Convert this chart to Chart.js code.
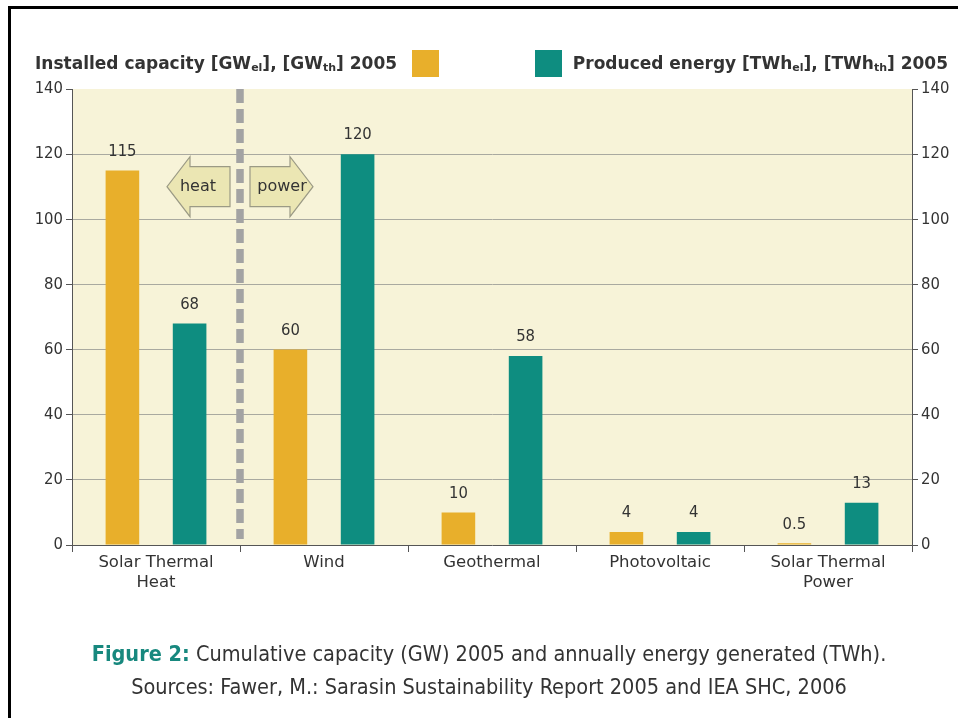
<!DOCTYPE html>
<html>
<head>
<meta charset="utf-8">
<script src="https://cdn.jsdelivr.net/npm/chart.js@4.4.1/dist/chart.umd.min.js"></script>
<style>
  html, body { margin: 0; padding: 0; background: #fff; }
  #wrap { position: relative; width: 958px; height: 718px; overflow: hidden; font-family: "DejaVu Sans", Verdana, sans-serif; }
  #frame { position: absolute; left: 8px; top: 6px; width: 1000px; height: 1000px; border-top: 3px solid #000; border-left: 3px solid #000; }
  canvas { position: absolute; left: 0; top: 0; }
  .leg { position: absolute; top: 53px; font-weight: bold; font-size: 17px; color: #333; white-space: nowrap; }
  .leg sub { font-size: 11px; vertical-align: -2px; }
  .sw { position: absolute; top: 50px; width: 27px; height: 27px; }
  #cap { position: absolute; left: 0; width: 978px; top: 637px; text-align: center; font-family: "DejaVu Sans Condensed", "DejaVu Sans", sans-serif; font-size: 21.5px; color: #333; line-height: 33px; }
  #cap b { color: #17887e; }
</style>
</head>
<body>
<div id="wrap">
  <div id="frame"></div>
  <canvas id="c" width="958" height="718"></canvas>
  <div class="leg" id="leg1" style="left:35px">Installed capacity [GW<sub>el</sub>], [GW<sub>th</sub>] 2005</div>
  <div class="sw" style="left:412px;background:#e8af2b"></div>
  <div class="sw" style="left:535px;background:#0e8d80"></div>
  <div class="leg" id="leg2" style="right:10px">Produced energy [TWh<sub>el</sub>], [TWh<sub>th</sub>] 2005</div>
  <div id="cap"><b>Figure 2:</b> Cumulative capacity (GW) 2005 and annually energy generated (TWh).<br>Sources: Fawer, M.: Sarasin Sustainability Report 2005 and IEA SHC, 2006</div>
</div>
<script>
const categories = [["Solar Thermal", "Heat"], "Wind", "Geothermal", "Photovoltaic", ["Solar Thermal", "Power"]];
const installedCapacity = [115, 60, 10, 4, 0.5];
const producedEnergy = [68, 120, 58, 4, 13];
const yTickValues = [0, 20, 40, 60, 80, 100, 120, 140];
const arrowLabels = ["heat", "power"];

const FONT_C = "'DejaVu Sans Condensed', 'DejaVu Sans', sans-serif";
const FONT = "'DejaVu Sans', sans-serif";

const bgPlugin = {
  id: 'bg',
  beforeDraw(chart) {
    const a = chart.chartArea, ctx = chart.ctx;
    ctx.save();
    ctx.fillStyle = '#f7f3d8';
    ctx.fillRect(a.left, a.top, a.right - a.left, a.bottom - a.top);
    ctx.restore();
  }
};

const annoPlugin = {
  id: 'anno',
  beforeDatasetsDraw(chart) {
    const ctx = chart.ctx, x = chart.scales.x, y = chart.scales.y, a = chart.chartArea;
    const div = (x.getPixelForValue(0) + x.getPixelForValue(1)) / 2;
    ctx.save();
    // dashed divider
    ctx.strokeStyle = '#a3a3a3';
    ctx.lineWidth = 7.5;
    ctx.setLineDash([14, 6]);
    ctx.beginPath();
    ctx.moveTo(div, a.top);
    ctx.lineTo(div, a.bottom - 6);
    ctx.stroke();
    ctx.setLineDash([]);
    // arrows
    const cy = y.getPixelForValue(110);
    function arrow(s, label) {
      const x0 = div + s * 10;
      const x1 = div + s * 50;
      const x2 = div + s * 73;
      const bh = 20, hh = 30;
      ctx.beginPath();
      ctx.moveTo(x0, cy - bh);
      ctx.lineTo(x1, cy - bh);
      ctx.lineTo(x1, cy - hh);
      ctx.lineTo(x2, cy);
      ctx.lineTo(x1, cy + hh);
      ctx.lineTo(x1, cy + bh);
      ctx.lineTo(x0, cy + bh);
      ctx.closePath();
      ctx.fillStyle = '#ebe6b3';
      ctx.fill();
      ctx.strokeStyle = '#9b9a85';
      ctx.lineWidth = 1.2;
      ctx.stroke();
      ctx.fillStyle = '#333';
      ctx.font = '16px ' + FONT;
      ctx.textAlign = 'center';
      ctx.textBaseline = 'middle';
      ctx.fillText(label, div + s * 42, cy);
    }
    arrow(-1, arrowLabels[0]);
    arrow(1, arrowLabels[1]);
    ctx.restore();
  },
  afterDatasetsDraw(chart) {
    const ctx = chart.ctx;
    ctx.save();
    ctx.fillStyle = '#333';
    ctx.font = '16.5px ' + FONT_C;
    ctx.textAlign = 'center';
    ctx.textBaseline = 'middle';
    chart.data.datasets.forEach((ds, i) => {
      const meta = chart.getDatasetMeta(i);
      meta.data.forEach((bar, j) => {
        ctx.fillText(String(ds.data[j]), bar.x, bar.y - 19);
      });
    });
    ctx.restore();
  }
};

new Chart(document.getElementById('c'), {
  type: 'bar',
  data: {
    labels: categories,
    datasets: [
      { label: 'Installed capacity', data: installedCapacity, backgroundColor: '#e8af2b', categoryPercentage: 0.8, barPercentage: 0.5 },
      { label: 'Produced energy', data: producedEnergy, backgroundColor: '#0e8d80', categoryPercentage: 0.8, barPercentage: 0.5 }
    ]
  },
  options: {
    responsive: false,
    animation: false,
    layout: { padding: { top: 89, left: 0, right: 0, bottom: 0 } },
    plugins: { legend: { display: false }, tooltip: { enabled: false } },
    scales: {
      x: {
        afterFit(s) { s.height = 173; },
        grid: { offset: true, drawOnChartArea: false, tickLength: 7, tickColor: '#555', lineWidth: 1 },
        border: { display: true, color: '#555', width: 1 },
        ticks: { color: '#333', font: { family: FONT, size: 16.5 }, padding: 1, maxRotation: 0, autoSkip: false }
      },
      y: {
        position: 'left',
        min: 0, max: 140,
        afterFit(s) { s.width = 72; },
        afterBuildTicks(s) { s.ticks = yTickValues.map(v => ({ value: v })); },
        grid: {
          color: (c) => (c.tick && (c.tick.value === 140 || c.tick.value === 0)) ? 'rgba(0,0,0,0)' : '#a9a9a0',
          tickColor: '#555', tickLength: 6, lineWidth: 1
        },
        border: { display: true, color: '#555', width: 1 },
        ticks: { color: '#333', font: { family: FONT_C, size: 16.5 }, padding: 3 }
      },
      y2: {
        position: 'right',
        min: 0, max: 140,
        afterFit(s) { s.width = 46; },
        afterBuildTicks(s) { s.ticks = yTickValues.map(v => ({ value: v })); },
        grid: { drawOnChartArea: false, tickColor: '#555', tickLength: 6 },
        border: { display: true, color: '#555', width: 1 },
        ticks: { color: '#333', font: { family: FONT_C, size: 16.5 }, padding: 3 }
      }
    }
  },
  plugins: [bgPlugin, annoPlugin]
});
</script>
</body>
</html>
